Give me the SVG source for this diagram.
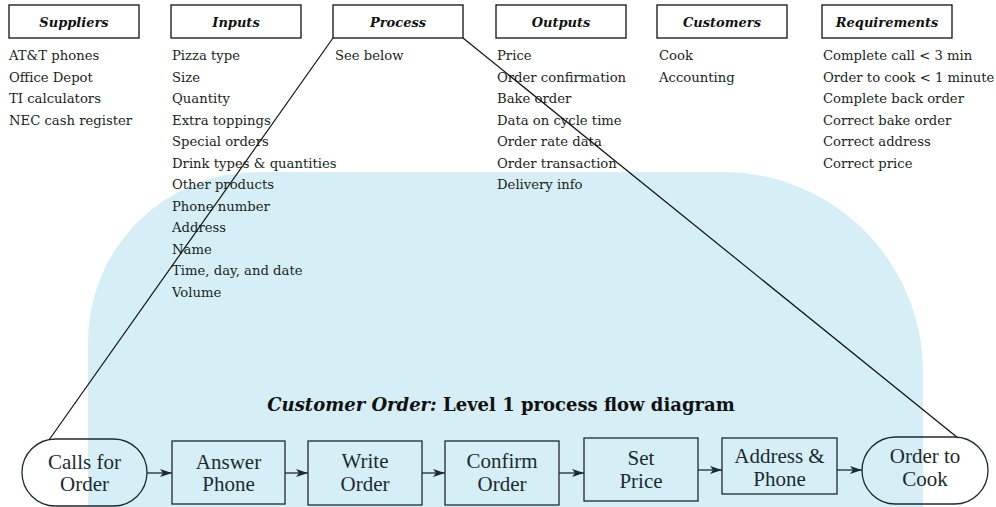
<svg xmlns="http://www.w3.org/2000/svg" width="996" height="507" viewBox="0 0 996 507">
<defs>
<style>
.hbox{fill:#fff;stroke:#111;stroke-width:1.3}
.ht{font-family:"DejaVu Serif",serif;font-weight:bold;font-style:italic;font-size:13px;fill:#111;text-anchor:middle}
.lt{font-family:"DejaVu Serif",serif;font-size:13.2px;fill:#1a1f22}
.node{fill:none;stroke:#1c2a30;stroke-width:1.3}
.nt{font-family:"Liberation Serif",serif;font-size:21px;fill:#1c2a30;text-anchor:middle}
.title{font-family:"DejaVu Serif",serif;font-weight:bold;font-size:18px;fill:#111;text-anchor:middle}
.conn{stroke:#1c2a30;stroke-width:1.3;fill:none}
.lead{stroke:#111;stroke-width:1.2;fill:none}
</style>
<marker id="arr" viewBox="0 0 12 8" refX="12" refY="4" markerWidth="12" markerHeight="8" markerUnits="userSpaceOnUse" orient="auto">
<path d="M0,0 L12,4 L0,8 L3,4 z" fill="#1c2a30"/>
</marker>
</defs>
<rect width="996" height="507" fill="#fff"/>
<path d="M88,507 L88,342 A170,170 0 0 1 258,172 L723,172 A200,200 0 0 1 923,372 L923,507 Z" fill="#d6eff6"/>

<g id="suppliers">
<rect class="hbox" x="9" y="5" width="130" height="33"/>
<text class="ht" x="74" y="27">Suppliers</text>
<text class="lt" x="9" y="60">AT&amp;T phones</text>
<text class="lt" x="9" y="81.5">Office Depot</text>
<text class="lt" x="9" y="103">TI calculators</text>
<text class="lt" x="9" y="124.5">NEC cash register</text>
</g>
<g id="inputs">
<rect class="hbox" x="171" y="5" width="130" height="33"/>
<text class="ht" x="236" y="27">Inputs</text>
<text class="lt" x="172" y="60">Pizza type</text>
<text class="lt" x="172" y="81.5">Size</text>
<text class="lt" x="172" y="103">Quantity</text>
<text class="lt" x="172" y="124.5">Extra toppings</text>
<text class="lt" x="172" y="146">Special orders</text>
<text class="lt" x="172" y="167.5">Drink types &amp; quantities</text>
<text class="lt" x="172" y="189">Other products</text>
<text class="lt" x="172" y="210.5">Phone number</text>
<text class="lt" x="172" y="232">Address</text>
<text class="lt" x="172" y="253.5">Name</text>
<text class="lt" x="172" y="275">Time, day, and date</text>
<text class="lt" x="172" y="296.5">Volume</text>
</g>
<g id="process">
<rect class="hbox" x="333" y="5" width="130" height="33"/>
<text class="ht" x="398" y="27">Process</text>
<text class="lt" x="335" y="60">See below</text>
</g>
<g id="outputs">
<rect class="hbox" x="496" y="5" width="130" height="33"/>
<text class="ht" x="561" y="27">Outputs</text>
<text class="lt" x="497" y="60">Price</text>
<text class="lt" x="497" y="81.5">Order confirmation</text>
<text class="lt" x="497" y="103">Bake order</text>
<text class="lt" x="497" y="124.5">Data on cycle time</text>
<text class="lt" x="497" y="146">Order rate data</text>
<text class="lt" x="497" y="167.5">Order transaction</text>
<text class="lt" x="497" y="189">Delivery info</text>
</g>
<g id="customers">
<rect class="hbox" x="657" y="5" width="130" height="33"/>
<text class="ht" x="722" y="27">Customers</text>
<text class="lt" x="659" y="60">Cook</text>
<text class="lt" x="659" y="81.5">Accounting</text>
</g>
<g id="requirements">
<rect class="hbox" x="822" y="5" width="130" height="33"/>
<text class="ht" x="887" y="27">Requirements</text>
<text class="lt" x="823" y="60">Complete call &lt; 3 min</text>
<text class="lt" x="823" y="81.5">Order to cook &lt; 1 minute</text>
<text class="lt" x="823" y="103">Complete back order</text>
<text class="lt" x="823" y="124.5">Correct bake order</text>
<text class="lt" x="823" y="146">Correct address</text>
<text class="lt" x="823" y="167.5">Correct price</text>
</g>

<text class="title" x="501" y="411"><tspan font-style="italic">Customer Order:</tspan> Level 1 process flow diagram</text>

<g id="connectors">
<line class="lead" x1="333" y1="38" x2="49" y2="440"/>
<line class="lead" x1="463" y1="38" x2="958" y2="438"/>
<line class="conn" x1="147" y1="473" x2="172" y2="473" marker-end="url(#arr)"/>
<line class="conn" x1="285" y1="473" x2="308" y2="473" marker-end="url(#arr)"/>
<line class="conn" x1="422" y1="473" x2="445" y2="473" marker-end="url(#arr)"/>
<line class="conn" x1="559" y1="473" x2="584" y2="473" marker-end="url(#arr)"/>
<line class="conn" x1="698" y1="470" x2="722" y2="470" marker-end="url(#arr)"/>
<line class="conn" x1="837" y1="470" x2="862" y2="470" marker-end="url(#arr)"/>
</g>

<g id="calls-for-order">
<rect class="node" x="22" y="439" width="125" height="67" rx="33.5" ry="33.5"/>
<text class="nt" x="84.5" y="469">Calls for</text>
<text class="nt" x="84.5" y="491">Order</text>
</g>
<g id="answer-phone">
<rect class="node" x="172" y="441" width="113" height="63"/>
<text class="nt" x="228.5" y="469">Answer</text>
<text class="nt" x="228.5" y="491">Phone</text>
</g>
<g id="write-order">
<rect class="node" x="308" y="441" width="114" height="64"/>
<text class="nt" x="365" y="468">Write</text>
<text class="nt" x="365" y="491">Order</text>
</g>
<g id="confirm-order">
<rect class="node" x="445" y="441" width="114" height="64"/>
<text class="nt" x="502" y="468">Confirm</text>
<text class="nt" x="502" y="491">Order</text>
</g>
<g id="set-price">
<rect class="node" x="584" y="438" width="114" height="63"/>
<text class="nt" x="641" y="465">Set</text>
<text class="nt" x="641" y="488">Price</text>
</g>
<g id="address-phone">
<rect class="node" x="722" y="438" width="115" height="56"/>
<text class="nt" x="779.5" y="463">Address &amp;</text>
<text class="nt" x="779.5" y="486">Phone</text>
</g>
<g id="order-to-cook">
<rect class="node" x="862" y="437" width="126" height="67" rx="33.5" ry="33.5"/>
<text class="nt" x="925" y="463">Order to</text>
<text class="nt" x="925" y="486">Cook</text>
</g>
</svg>
